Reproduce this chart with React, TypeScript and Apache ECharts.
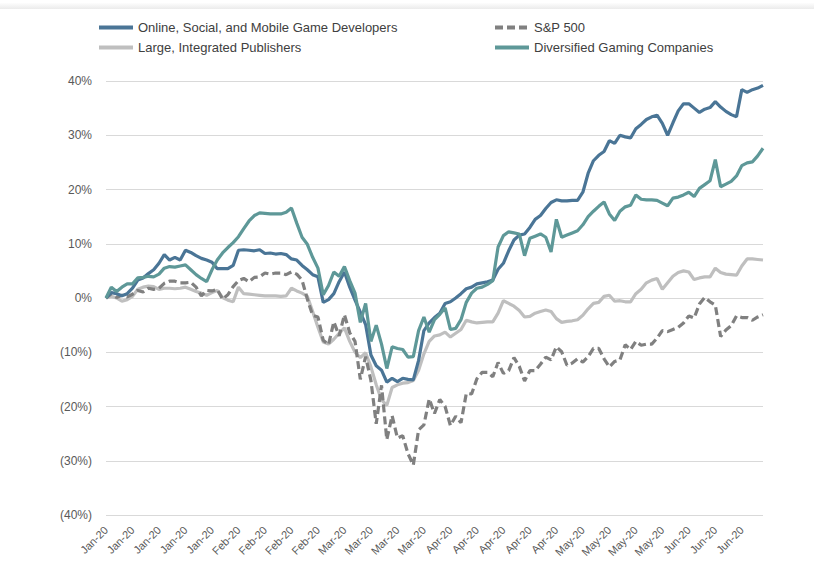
import React, { useEffect, useRef } from 'react';
import * as echarts from 'echarts';

const months = ['Jan-20', 'Feb-20', 'Mar-20', 'Apr-20', 'May-20', 'Jun-20'];
const daysPerMonth = [23, 20, 22, 22, 21, 17];
const categories: string[] = months.flatMap((m, i) => Array(daysPerMonth[i]).fill(m));

const seriesNames = [
  'Online, Social, and Mobile Game Developers',
  'S&P 500',
  'Large, Integrated Publishers',
  'Diversified Gaming Companies',
];

const online = [
  0, 1.0, 0.8, 0.4, 0.8, 1.8, 3.3, 3.7, 4.5, 5.2, 6.4, 8.0, 7.0, 7.5, 7.0, 8.8, 8.4, 7.8, 7.3, 7.0,
  6.6, 5.4, 5.4, 5.4, 6.0, 8.8, 8.9, 8.8, 8.7, 8.9, 8.2, 8.3, 8.1, 8.2, 8.0, 7.2, 7.0, 6.0, 5.2, 4.3,
  3.9, -0.8, -0.3, 0.8, 3.0, 4.8, 2.0, -0.4, -2.6, -4.9, -10.5, -12.5, -13.3, -15.5, -14.8, -15.4, -14.8, -15.0, -15.1, -11.5,
  -6.0, -4.6, -3.6, -2.8, -1.0, -0.7, 0, 0.8, 1.7, 2.0, 2.6, 2.8, 3.0, 3.3, 5.3, 6.4, 8.7, 10.7, 11.6, 11.8,
  13.0, 14.5, 15.2, 16.5, 17.6, 18.1, 17.9, 17.9, 18.0, 18.0, 19.5, 23.0, 25.3, 26.3, 27.0, 29.0, 28.5, 30.0, 29.7, 29.5,
  31.2, 32.0, 32.9, 33.4, 33.7, 32.2, 30.0, 32.3, 34.5, 35.8, 35.8, 35.0, 34.2, 34.8, 35.1, 36.2, 35.2, 34.4, 33.8, 33.4,
  38.4, 37.9, 38.4, 38.7, 39.2,
];

const diversified = [
  0, 2.0, 1.2, 2.0, 2.6, 2.6, 3.7, 3.8, 4.0, 3.9, 4.4, 5.5, 5.8, 5.7, 5.9, 6.1, 5.2, 4.3, 3.6, 3.0,
  5.2, 7.0, 8.3, 9.3, 10.2, 11.3, 12.8, 14.2, 15.2, 15.7, 15.6, 15.5, 15.5, 15.5, 15.8, 16.6, 13.8, 11.2, 9.9, 7.5,
  5.5, 0.6, 2.3, 4.8, 4.0, 5.8, 3.2, 0.9, -4.5, -1.0, -8.0, -5.0, -8.5, -13.0, -9.0, -9.3, -9.5, -10.9, -10.8, -6.0,
  -3.5, -6.3, -4.0, -3.0, -1.8, -5.8, -5.6, -4.0, -0.8, 0.9, 1.8, 2.0, 2.5, 3.2, 9.4, 11.5, 12.2, 12.0, 11.8, 7.8,
  11.0, 11.4, 11.8, 11.2, 8.5, 14.5, 11.2, 11.6, 12.0, 12.4, 13.5, 15.0, 16.0, 16.9, 17.7, 15.5, 14.3, 16.0, 16.8, 17.1,
  19.0, 18.2, 18.1, 18.1, 18.0, 17.5, 17.0, 18.4, 18.6, 19.0, 19.5, 18.7, 20.2, 20.9, 21.6, 25.5, 20.5, 21.0, 21.5, 22.5,
  24.4, 24.9, 25.1, 26.2, 27.6,
];

const publishers = [
  0, 0.3, 0.0, -0.6, -0.3, 0.3, 1.6, 2.0, 2.2, 2.1, 1.6, 1.8, 1.8, 1.7, 1.8, 2.0, 1.6, 1.2, 0.9, 0.5,
  1.0, 1.4, 0.1, -0.4, -0.7, 2.0, 0.8, 0.7, 0.6, 0.5, 0.4, 0.4, 0.4, 0.3, 0.4, 1.8, 1.3, 0.9, 0.3, -2.5,
  -5.4, -8.1, -8.5, -7.6, -6.5, -5.5, -8.0, -10.0, -11.0, -10.1, -12.7, -16.0, -18.8, -19.8, -16.5, -16.0, -15.7, -15.6, -15.2, -13.3,
  -10.3, -8.0, -7.0, -6.8, -6.3, -7.2, -6.5, -5.8, -4.1, -4.4, -4.6, -4.5, -4.4, -4.4, -2.8, -0.5, -1.0, -1.5, -2.3, -3.5,
  -3.4, -2.8, -2.5, -2.2, -2.5, -3.8, -4.5, -4.3, -4.2, -4.0, -3.2, -2.0, -1.0, -0.8, 0.3, 0.5, -0.6, -0.5, -0.7, -0.7,
  0.8, 1.6, 2.8, 3.3, 3.6, 1.6, 2.8, 4.0, 4.7, 5.0, 4.8, 3.4, 3.7, 3.9, 3.9, 5.5, 4.7, 4.4, 4.3, 4.2,
  5.9, 7.2, 7.2, 7.1, 7.0,
];

const sp500 = [
  0, 0.8, 0.1, 0.5, 0.2, 0.7, 1.4, 1.1, 1.8, 1.6, 1.8, 2.7, 3.1, 3.1, 2.8, 2.8, 2.9, 2.0, 0.4, 1.4,
  1.3, 1.6, -0.2, 0.6, 2.1, 3.2, 3.6, 3.0, 3.8, 3.9, 4.6, 4.4, 4.6, 4.6, 4.3, 4.8, 4.4, 3.3, -0.2, -3.2,
  -3.5, -7.8, -8.6, -4.4, -7.0, -3.1, -6.4, -8.0, -15.0, -10.8, -15.2, -23.2, -16.1, -26.1, -21.7, -25.8, -25.4, -28.7, -30.8, -24.3,
  -23.4, -18.6, -21.3, -18.7, -20.0, -23.5, -21.8, -23.0, -17.6, -17.7, -14.9, -13.7, -13.7, -14.5, -11.9, -13.9, -13.4, -11.0, -12.6, -15.3,
  -13.4, -13.4, -12.2, -10.9, -11.4, -9.0, -9.9, -12.4, -12.0, -11.2, -11.8, -10.8, -9.3, -9.3, -11.2, -12.7, -11.7, -11.4, -8.6, -9.5,
  -8.0, -8.7, -8.5, -8.5, -7.4, -6.0, -6.2, -5.8, -5.4, -4.6, -3.3, -3.7, -1.1, 0.1, -0.7, -1.3, -7.1, -5.9, -5.1, -3.3,
  -3.6, -3.6, -4.1, -3.5, -3.1,
];

const yMin = -40;
const yMax = 40;
const yInterval = 10;

const FONT = 'Arial, "Liberation Sans", sans-serif';
const COLORS = {
  online: '#4A7596',
  sp: '#808080',
  publishers: '#BFBFBF',
  diversified: '#5E9898',
};

function formatPct(v: number): string {
  if (v === 0) return '0%';
  if (v < 0) return `(${Math.abs(v)}%)`;
  return `${v}%`;
}

export default function App() {
  const ref = useRef<HTMLDivElement>(null);

  useEffect(() => {
    if (!ref.current) return;
    const chart = echarts.init(ref.current, null, { renderer: 'svg' });
    const legendBase = {
      itemWidth: 34,
      itemHeight: 14,
      textStyle: { fontSize: 13, color: '#404040', fontFamily: FONT },
      selectedMode: false,
      padding: 0,
      itemStyle: { opacity: 0, borderWidth: 0 },
      lineStyle: { width: 4 },
    };
    chart.setOption({
      animation: false,
      backgroundColor: '#ffffff',
      textStyle: { fontFamily: FONT },
      graphic: [
        {
          type: 'rect',
          left: 0,
          top: 3,
          shape: { width: 814, height: 6 },
          silent: true,
          style: {
            fill: new echarts.graphic.LinearGradient(0, 0, 0, 1, [
              { offset: 0, color: '#FDFDFD' },
              { offset: 1, color: '#EBEBEB' },
            ]),
          },
        },
      ],
      legend: [
        { ...legendBase, data: [seriesNames[0]], left: 97, top: 21 },
        { ...legendBase, data: [seriesNames[1]], left: 493, top: 21 },
        { ...legendBase, data: [seriesNames[2]], left: 97, top: 41 },
        { ...legendBase, data: [seriesNames[3]], left: 493, top: 41 },
      ],
      grid: { left: 106, right: 51, top: 81, bottom: 51, containLabel: false },
      xAxis: {
        type: 'category',
        data: categories,
        boundaryGap: false,
        axisLine: { show: true, lineStyle: { color: '#D9D9D9', width: 1 } },
        axisTick: { show: false },
        axisLabel: {
          interval: 4,
          rotate: 45,
          color: '#595959',
          fontSize: 11,
          fontFamily: FONT,
          margin: 13,
        },
        splitLine: { show: false },
      },
      yAxis: {
        type: 'value',
        min: yMin,
        max: yMax,
        interval: yInterval,
        axisLine: { show: false },
        axisTick: { show: false },
        axisLabel: {
          formatter: formatPct,
          color: '#595959',
          fontSize: 12,
          fontFamily: FONT,
          margin: 14,
        },
        splitLine: { lineStyle: { color: '#D9D9D9', width: 1 } },
      },
      series: [
        {
          name: seriesNames[2],
          type: 'line',
          data: publishers,
          symbol: 'none',
          showSymbol: false,
          lineStyle: { color: COLORS.publishers, width: 3.2 },
          itemStyle: { color: COLORS.publishers },
        },
        {
          name: seriesNames[1],
          type: 'line',
          data: sp500,
          symbol: 'none',
          showSymbol: false,
          lineStyle: { color: COLORS.sp, width: 3.2, type: [8, 4] },
          itemStyle: { color: COLORS.sp },
        },
        {
          name: seriesNames[0],
          type: 'line',
          data: online,
          symbol: 'none',
          showSymbol: false,
          lineStyle: { color: COLORS.online, width: 3.2 },
          itemStyle: { color: COLORS.online },
        },
        {
          name: seriesNames[3],
          type: 'line',
          data: diversified,
          symbol: 'none',
          showSymbol: false,
          lineStyle: { color: COLORS.diversified, width: 3.2 },
          itemStyle: { color: COLORS.diversified },
        },
      ],
    });
    return () => chart.dispose();
  }, []);

  return (
    <div
      ref={ref}
      style={{ position: 'fixed', left: 0, top: 0, width: 814, height: 566, background: '#fff' }}
    />
  );
}
